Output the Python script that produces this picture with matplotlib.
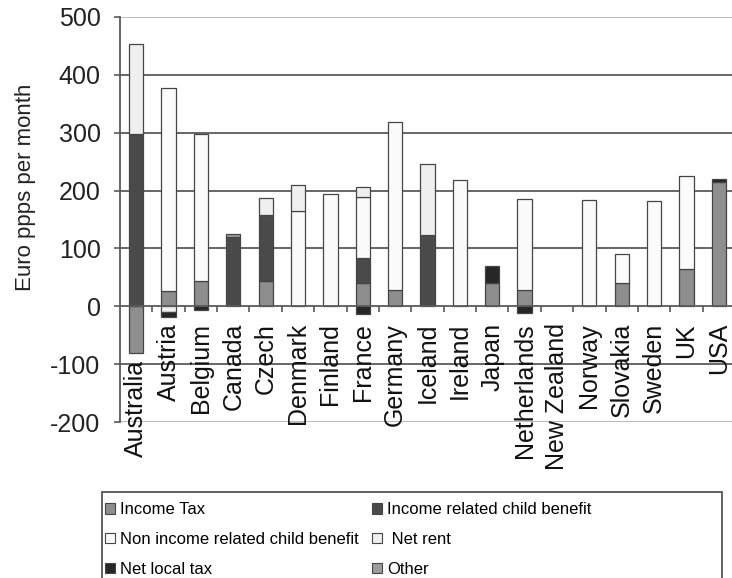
import numpy as np
import matplotlib
matplotlib.use("Agg")
import matplotlib.pyplot as plt
from matplotlib.patches import Patch, Rectangle

plt.rcParams['font.family'] = ['Liberation Sans', 'DejaVu Sans']
plt.rcParams['axes.unicode_minus'] = False

countries = ['Australia', 'Austria', 'Belgium', 'Canada', 'Czech', 'Denmark',
             'Finland', 'France', 'Germany', 'Iceland', 'Ireland', 'Japan',
             'Netherlands', 'New Zealand', 'Norway', 'Slovakia', 'Sweden',
             'UK', 'USA']

income_tax     = [-81, 26, 43, 0, 43, 0, 0, 40, 28, 0, 0, 40, 28, 0, 0, 40, 0, 64, 214]
income_cb      = [298, 0, 0, 119, 115, 0, 0, 43, 0, 123, 0, 0, 0, 0, 0, 0, 0, 0, 0]
non_income_cb  = [0, 352, 255, 0, 0, 165, 194, 106, 290, 0, 219, 0, 158, 0, 184, 50, 182, 161, 0]
net_rent       = [156, -10, 0, 0, 29, 45, 0, 18, 0, 123, 0, 0, 0, 0, 0, 0, 0, 0, 0]
net_local_tax  = [0, -8, -7, 0, 0, 0, 0, -13, 0, 0, 0, 30, -12, 0, 0, 0, 0, 0, 6]
other          = [0, 0, 0, 6, 0, 0, 0, 0, 0, 0, 0, 0, 0, 0, 0, 0, 0, 0, 0]

series_names = ['Income Tax', 'Income related child benefit',
                'Non income related child benefit', ' Net rent',
                'Net local tax', 'Other']
series = [income_tax, income_cb, non_income_cb, net_rent, net_local_tax, other]
colors = ['#8e8e8e', '#4a4a4a', '#fbfbfb', '#efefef', '#262626', '#9c9c9c']
edge = '#454545'

fig = plt.figure(figsize=(7.32, 5.78), dpi=100)
W, H = 732, 578
ax = fig.add_axes([120 / W, 1 - 422 / H, 615 / W, 405 / H])

x = np.arange(len(countries))
pos_bottom = np.zeros(len(countries))
neg_bottom = np.zeros(len(countries))
for vals, col in zip(series, colors):
    v = np.array(vals, dtype=float)
    bottom = np.where(v >= 0, pos_bottom, neg_bottom)
    nz = v != 0
    ax.bar(x[nz], v[nz], 0.44, bottom=bottom[nz], color=col, edgecolor=edge,
           linewidth=0.9, zorder=3)
    pos_bottom += np.clip(v, 0, None)
    neg_bottom += np.clip(v, None, 0)

ax.set_ylim(-200, 500)
ax.set_xlim(-0.5, len(countries) - 0.5)
ax.set_yticks(np.arange(-200, 501, 100))
for yv in range(-100, 401, 100):
    if yv != 0:
        ax.axhline(yv, color='#5a5a5a', lw=1.3, zorder=1)
ax.axhline(500, color='#b5b5b5', lw=1.3, zorder=1)
ax.axhline(-200, color='#b5b5b5', lw=1.3, zorder=1)

for s in ['top', 'right']:
    ax.spines[s].set_visible(False)
ax.spines['left'].set_color('#5a5a5a')
ax.spines['left'].set_linewidth(1.3)
ax.spines['bottom'].set_position(('data', 0))
ax.spines['bottom'].set_color('#5a5a5a')
ax.spines['bottom'].set_linewidth(1.3)
ax.spines['bottom'].set_zorder(4)

ax.tick_params(axis='y', direction='out', length=4, width=1.2, color='#5a5a5a',
               pad=10, labelsize=18, labelcolor='#222222')

# category labels (Australia sits below its negative bar)
ax.set_xticks(x, [''] + countries[1:], rotation=90, fontsize=18, color='#111111')
ax.set_xticks(x[:-1] + 0.5, minor=True)
ax.tick_params(axis='x', which='major', length=0, pad=12)
ax.tick_params(axis='x', which='minor', direction='out', length=4, width=1.2,
               color='#5a5a5a')
ax.annotate(countries[0], xy=(x[0], income_tax[0]), xytext=(0, -5),
            textcoords='offset points', rotation=90, ha='center', va='top',
            fontsize=18, color='#111111', annotation_clip=False)

ax.set_ylabel('Euro ppps per month', fontsize=16, color='#222222')
ax.yaxis.set_label_coords(-0.137, 0.58)

# legend, row-major order in two columns
handles = [Patch(facecolor=c, edgecolor=edge, linewidth=0.8) for c in colors]
order = [0, 2, 4, 1, 3, 5]
fig.legend([handles[i] for i in order], [series_names[i] for i in order],
           ncol=2, loc='upper left', bbox_to_anchor=(102 / W, 1 - 499 / H),
           frameon=False, fontsize=12, handlelength=0.6, handleheight=0.6,
           handletextpad=0.3, labelspacing=0.88, columnspacing=0.8,
           borderaxespad=0, borderpad=0.2)
fig.patches.append(Rectangle((102 / W, -0.02), 620 / W, 1 - 492 / H + 0.02,
                             transform=fig.transFigure, fill=False,
                             edgecolor='#555555', lw=1.3))

fig.savefig('out.png', dpi=100)
